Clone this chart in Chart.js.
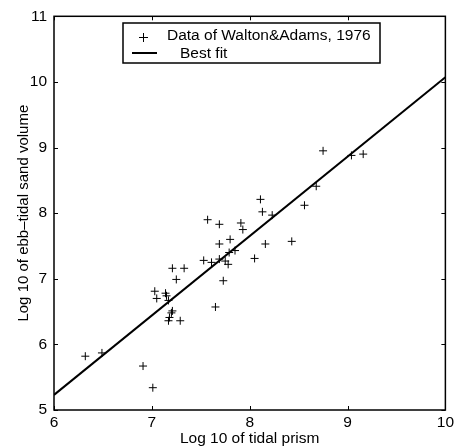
<!DOCTYPE html>
<html>
<head>
<meta charset="UTF-8">
<title>Ebb-tidal sand volume vs tidal prism</title>
<script src="https://cdn.jsdelivr.net/npm/chart.js@4.4.1/dist/chart.umd.min.js"></script>
<style>
  html, body { margin: 0; padding: 0; background: #fff; }
  #wrap { width: 457px; height: 448px; }
</style>
</head>
<body>
<div id="wrap"><canvas id="myChart"></canvas></div>
<script>
// log10 of tidal prism (x) and log10 of ebb-tidal sand volume (y)
const prismLog = [6.32, 6.49, 6.91, 7.01, 7.03, 7.05, 7.14, 7.15, 7.17, 7.18, 7.17, 7.21, 7.20, 7.29,
  7.21, 7.25, 7.33, 7.65, 7.53, 7.61, 7.57, 7.69, 7.69, 7.69, 7.73, 7.75, 7.78, 7.80, 7.79, 7.85,
  7.91, 7.93, 8.11, 8.13, 8.23, 8.16, 8.05, 8.43, 8.56, 8.68, 8.75, 9.04, 9.16];
const sandLog = [5.82, 5.87, 5.67, 5.34, 6.81, 6.70, 6.78, 6.74, 6.67, 6.41, 6.36, 6.51, 6.48, 6.36,
  7.16, 6.99, 7.16, 6.57, 7.28, 7.25, 7.90, 7.83, 7.53, 7.30, 6.97, 7.27, 7.22, 7.60, 7.40, 7.43,
  7.85, 7.75, 8.21, 8.02, 7.97, 7.53, 7.31, 7.57, 8.12, 8.41, 8.95, 8.88, 8.90];
const fitX = [6, 10];
const fitY = [5.23, 10.07];
const xTicks = [6, 7, 8, 9, 10];
const yTicks = [5, 6, 7, 8, 9, 10, 11];

const FONT = 'Liberation Sans, Arial, sans-serif';
const FSIZE = 15.5;

const frame = {
  id: 'frame',
  afterDatasetsDraw(chart) {
    const {ctx, chartArea: a, scales: {x, y}} = chart;
    ctx.save();
    ctx.strokeStyle = '#000';
    ctx.lineWidth = 1;
    ctx.beginPath();
    xTicks.forEach(v => {
      const p = Math.round(x.getPixelForValue(v)) + 0.5;
      ctx.moveTo(p, a.bottom); ctx.lineTo(p, a.bottom - 4);
      ctx.moveTo(p, a.top); ctx.lineTo(p, a.top + 4);
    });
    yTicks.forEach(v => {
      const p = Math.round(y.getPixelForValue(v)) + 0.5;
      ctx.moveTo(a.left, p); ctx.lineTo(a.left + 4, p);
      ctx.moveTo(a.right, p); ctx.lineTo(a.right - 4, p);
    });
    ctx.stroke();
    ctx.lineWidth = 1.5;
    ctx.strokeRect(a.left, a.top, a.right - a.left, a.bottom - a.top);

    // legend box
    const bx = 123, by = 23, bw = 257, bh = 40;
    ctx.fillStyle = '#fff';
    ctx.fillRect(bx, by, bw, bh);
    ctx.lineWidth = 1.5;
    ctx.strokeRect(bx, by, bw, bh);
    ctx.fillStyle = '#000';
    ctx.font = FSIZE + 'px ' + FONT;
    ctx.textBaseline = 'middle';
    ctx.fillText(chart.data.datasets[0].label, 167, 36);
    ctx.fillText(chart.data.datasets[1].label, 180, 54);
    ctx.lineWidth = 1;
    ctx.beginPath();
    ctx.moveTo(139, 37.5); ctx.lineTo(148, 37.5);
    ctx.moveTo(143.5, 33); ctx.lineTo(143.5, 42);
    ctx.stroke();
    ctx.lineWidth = 2;
    ctx.beginPath();
    ctx.moveTo(132, 53); ctx.lineTo(157, 53);
    ctx.stroke();
    ctx.restore();
  }
};

new Chart('myChart', {
  type: 'scatter',
  data: {
    datasets: [{
      label: 'Data of Walton&Adams, 1976',
      data: prismLog.map((v, i) => ({x: v, y: sandLog[i]})),
      pointStyle: 'cross',
      pointRadius: 4,
      borderColor: '#000',
      borderWidth: 1,
      backgroundColor: '#000'
    }, {
      label: 'Best fit',
      type: 'line',
      data: fitX.map((v, i) => ({x: v, y: fitY[i]})),
      borderColor: '#000',
      borderWidth: 2,
      pointRadius: 0,
      fill: false
    }]
  },
  options: {
    responsive: true,
    maintainAspectRatio: false,
    animation: false,
    layout: {padding: {left: 0, right: 9, top: 16, bottom: 0}},
    plugins: {legend: {display: false}, tooltip: {enabled: false}},
    scales: {
      x: {
        type: 'linear', min: 6, max: 10,
        afterBuildTicks: s => { s.ticks = xTicks.map(v => ({value: v})); },
        afterFit: s => { s.height = 38; },
        grid: {display: false, drawTicks: false},
        border: {display: false},
        ticks: {color: '#000', padding: 3, font: {family: FONT, size: FSIZE}},
        title: {display: true, text: 'Log 10 of tidal prism', color: '#000', padding: 0,
          font: {family: FONT, size: FSIZE}}
      },
      y: {
        type: 'linear', min: 5, max: 11,
        afterBuildTicks: s => { s.ticks = yTicks.map(v => ({value: v})); },
        afterFit: s => { s.width = 54; },
        grid: {display: false, drawTicks: false},
        border: {display: false},
        ticks: {color: '#000', padding: 7, font: {family: FONT, size: FSIZE}},
        title: {display: true, text: 'Log 10 of ebb\u2013tidal sand volume', color: '#000',
          padding: {top: 15, bottom: 0}, font: {family: FONT, size: 15}}
      }
    }
  },
  plugins: [frame]
});
</script>
</body>
</html>
